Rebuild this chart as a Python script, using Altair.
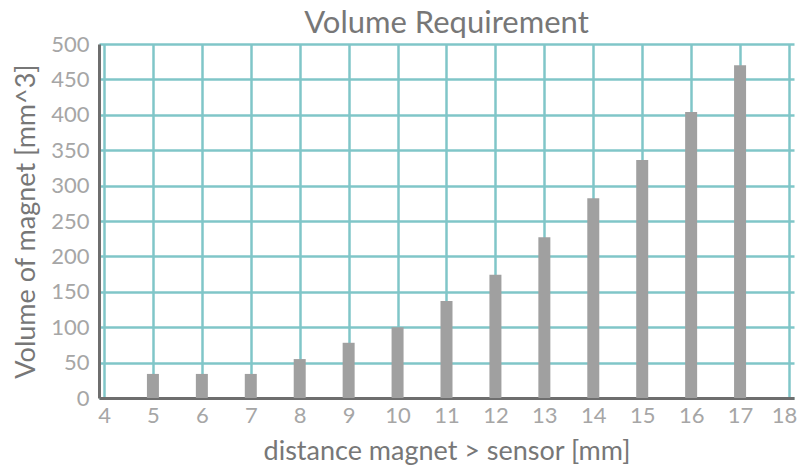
import altair as alt
import pandas as pd

distance = [5, 6, 7, 8, 9, 10, 11, 12, 13, 14, 15, 16, 17]
volume = [34, 34, 34, 55, 78, 100, 137, 174, 227, 282, 336, 404, 470]
x_ticks = [4, 5, 6, 7, 8, 9, 10, 11, 12, 13, 14, 15, 16, 17, 18]
y_ticks = [0, 50, 100, 150, 200, 250, 300, 350, 400, 450, 500]

df = pd.DataFrame({"distance": distance, "volume": volume})

FONT = "Lato"
TEAL = "#80c6c8"

chart = alt.Chart(df).mark_bar(size=12, color="#a0a0a0").encode(
    x=alt.X(
        "distance:Q",
        scale=alt.Scale(domain=[4, 18], nice=False, zero=False),
        axis=alt.Axis(
            title="distance magnet > sensor [mm]",
            values=x_ticks,
            labelOverlap=False,
            labelOffset={"condition": {"test": "datum.value == 18", "value": -5}, "value": 0},
            grid=True,
            gridColor=TEAL,
            gridWidth=2.5,
            gridOpacity=1,
            domainColor="#6e6e6e",
            domainWidth=3,
            ticks=False,
            labelPadding=7,
            labelFontSize=22,
            labelColor="#a6a6a6",
            labelFont=FONT,
            titleFont=FONT,
            titleFontSize=27,
            titleFontWeight="normal",
            titleColor="#777777",
            titlePadding=12,
        ),
    ),
    y=alt.Y(
        "volume:Q",
        scale=alt.Scale(domain=[0, 500], nice=False),
        axis=alt.Axis(
            title="Volume of magnet [mm^3]",
            values=y_ticks,
            labelOverlap=False,
            grid=True,
            gridColor=TEAL,
            gridWidth=2.5,
            gridOpacity=1,
            domainColor="#6e6e6e",
            domainWidth=3,
            ticks=False,
            labelPadding=10,
            labelFontSize=22,
            labelColor="#a6a6a6",
            labelFont=FONT,
            titleFont=FONT,
            titleFontSize=27,
            titleFontWeight="normal",
            titleColor="#777777",
            titlePadding=10,
        ),
    ),
).properties(
    width=695,
    height=354,
    title=alt.TitleParams(
        "Volume Requirement",
        font=FONT,
        fontSize=31,
        fontWeight="normal",
        color="#777777",
        anchor="middle",
        offset=-7,
    ),
    autosize=alt.AutoSizeParams(type="none"),
    padding={"left": 91, "top": 36, "right": 6, "bottom": 70},
).configure_view(stroke=None)

chart.save("out.html", embed_options={"renderer": "svg", "actions": False})
